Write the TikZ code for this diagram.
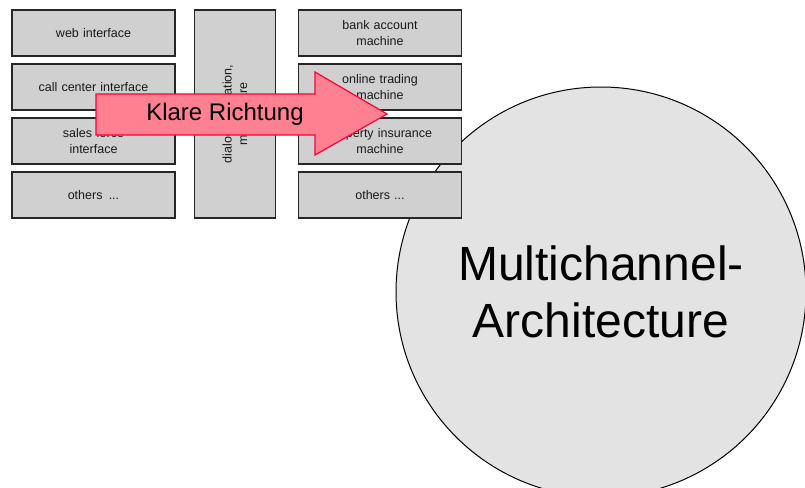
\documentclass[tikz,border=0pt]{standalone}
\usepackage{fontspec}
\setmainfont{Liberation Sans}
\usepackage{xcolor}
\usetikzlibrary{positioning,calc}

\definecolor{kastengrau}{RGB}{208,208,208}
\definecolor{kreisgrau}{RGB}{227,227,227}
\definecolor{pfeilrosa}{RGB}{255,128,145}
\definecolor{pfeilrot}{RGB}{255,0,51}

\begin{document}
\begin{tikzpicture}[
    x=1pt, y=-1pt,
    node distance=6.8pt,
    kasten/.style={rectangle, draw=black!85, line width=1.2pt, fill=kastengrau, text width=150pt, align=center, minimum width=163pt, minimum height=46pt, inner sep=0pt, font=\fontsize{12.5}{15.5}\selectfont, text=black!90},
    mitte/.style={rectangle, draw=black!85, line width=1.2pt, fill=kastengrau, minimum width=81pt, minimum height=208pt, inner sep=0pt},
    kreis/.style={circle, draw, line width=1pt, fill=kreisgrau, minimum size=410pt, inner sep=0pt, align=center, font=\fontsize{48}{57}\selectfont},
    pfeil/.style={draw=pfeilrot, line width=1.2pt, fill=pfeilrosa}
]
    \useasboundingbox (0,0) rectangle (805,487);
    \clip (0,0) rectangle (805,487);

    % grosser Kreis hinten
    \node [kreis] (multi) at (601,292) {Multichannel-\\Architecture};

    % linke Spalte
    \node [kasten, anchor=north west] (web) at (11.4,9.4) {web interface};
    \node [kasten, below=of web] (callcenter) {call center interface};
    \node [kasten, below=of callcenter] (sales) {sales force\\interface};
    \node [kasten, below=6.8pt of sales] (others1) {others\enspace...};

    % mittlere Spalte
    \node [mitte, right=18.3pt of web.north east, anchor=north west] (dialog) {};
    \node [rotate=90, align=center, font=\fontsize{12.5}{15.5}\selectfont, text=black!90] (dialogtext) at (dialog.center) {dialog integration,\\middleware};

    % rechte Spalte
    \node [kasten, right=21.8pt of dialog.north east, anchor=north west] (bank) {bank account\\machine};
    \node [kasten, below=of bank] (trading) {online trading\\machine};
    \node [kasten, below=of trading] (property) {property insurance\\machine};
    \node [kasten, below=6.8pt of property] (others2) {others ...};

    % Pfeil
    \draw [pfeil] (96,94) -- (315,94) -- (315,72) -- (387,114) -- (315,155) -- (315,135) -- (96,135) -- cycle;
    \node [font=\fontsize{24}{28}\selectfont] (richtung) at (225,114.5) {Klare Richtung};

\end{tikzpicture}
\end{document}
